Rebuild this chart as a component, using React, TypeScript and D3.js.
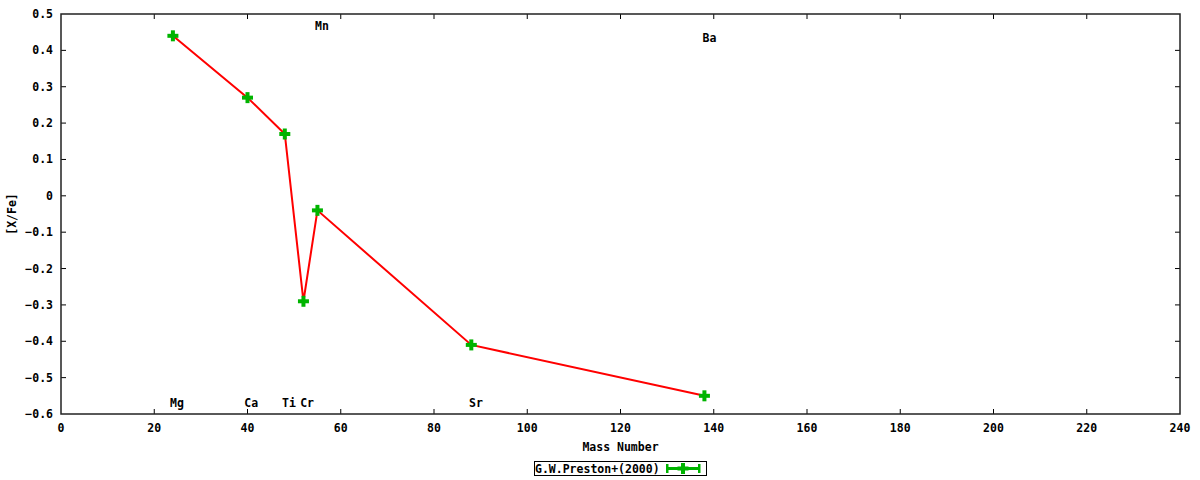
import React from 'react'
import * as d3 from 'd3'

// abundances from the reference
const elements = ['Mg', 'Ca', 'Ti', 'Cr', 'Mn', 'Sr', 'Ba']
const massNumbers = [24, 40, 48, 52, 55, 88, 138]
const xFe = [0.44, 0.27, 0.17, -0.29, -0.04, -0.41, -0.55]

// element name labels (placed in data coordinates)
const labelMass = [23.4, 39.3, 47.4, 51.3, 54.5, 87.5, 137.6]
const labelY = [-0.57, -0.57, -0.57, -0.57, 0.467, -0.57, 0.434]

const xTicks = [0, 20, 40, 60, 80, 100, 120, 140, 160, 180, 200, 220, 240]
const yTicks = [0.5, 0.4, 0.3, 0.2, 0.1, 0, -0.1, -0.2, -0.3, -0.4, -0.5, -0.6]

const seriesName = 'G.W.Preston+(2000)'

const W = 1200
const H = 480
const left = 61
const right = 1180
const top = 14
const bottom = 414

const FONT = '"DejaVu Sans Mono", monospace'
const GREEN = '#00b400'
const RED = '#ff0000'

const Plus = ({ x, y }: { x: number; y: number }) => (
  <g transform={`translate(${x},${y})`}>
    <rect x={-5.5} y={-2} width={11} height={4} fill={GREEN} />
    <rect x={-2} y={-5.5} width={4} height={11} fill={GREEN} />
  </g>
)

export default function App() {
  const x = d3.scaleLinear().domain([0, 240]).range([left, right])
  const y = d3.scaleLinear().domain([-0.6, 0.5]).range([bottom, top])

  const pts = massNumbers.map((m, i) => ({ m, v: xFe[i] }))
  const line = d3.line<{ m: number; v: number }>()
    .x(d => x(d.m))
    .y(d => y(d.v))

  const fmt = (v: number) => (v === 0 ? '0' : d3.format('.1f')(v))

  return (
    <svg width={W} height={H} style={{ position: 'absolute', left: 0, top: 0, background: '#fff' }}
      fontFamily={FONT} fontSize={11.5} fontWeight="bold">
      {/* ticks, mirrored on all four sides */}
      {xTicks.slice(1, -1).map(t => (
        <g key={'xt' + t} stroke="#000" strokeWidth={1}>
          <line x1={x(t)} x2={x(t)} y1={bottom} y2={bottom - 5} />
          <line x1={x(t)} x2={x(t)} y1={top} y2={top + 5} />
        </g>
      ))}
      {yTicks.slice(1, -1).map(t => (
        <g key={'yt' + t} stroke="#000" strokeWidth={1}>
          <line x1={left} x2={left + 5} y1={y(t)} y2={y(t)} />
          <line x1={right} x2={right - 5} y1={y(t)} y2={y(t)} />
        </g>
      ))}
      <rect x={left} y={top} width={right - left} height={bottom - top}
        fill="none" stroke="#222" strokeWidth={1.5} />

      {xTicks.map(t => (
        <text key={'xl' + t} x={x(t)} y={428} textAnchor="middle" dominantBaseline="central">{t}</text>
      ))}
      {yTicks.map(t => (
        <text key={'yl' + t} x={53} y={y(t)} textAnchor="end" dominantBaseline="central">{fmt(t)}</text>
      ))}

      <text x={(left + right) / 2} y={447} textAnchor="middle" dominantBaseline="central">Mass Number</text>
      <text transform={`translate(12,${(top + bottom) / 2}) rotate(-90)`} textAnchor="middle"
        dominantBaseline="central">[X/Fe]</text>

      {elements.map((e, i) => (
        <text key={e} x={x(labelMass[i])} y={y(labelY[i])} dominantBaseline="central">{e}</text>
      ))}

      <path d={line(pts) ?? ''} fill="none" stroke={RED} strokeWidth={2} />
      {pts.map((p, i) => <Plus key={i} x={x(p.m)} y={y(p.v)} />)}

      {/* legend */}
      <rect x={534.5} y={461.5} width={172} height={14} fill="#fff" stroke="#000" strokeWidth={1} />
      <text x={535} y={468.5} dominantBaseline="central">{seriesName}</text>
      <g>
        <rect x={666} y={467} width={34} height={3} fill={GREEN} />
        <rect x={666} y={464} width={2.5} height={9} fill={GREEN} />
        <rect x={698} y={464} width={2.5} height={9} fill={GREEN} />
        <Plus x={683} y={468.5} />
      </g>
    </svg>
  )
}
